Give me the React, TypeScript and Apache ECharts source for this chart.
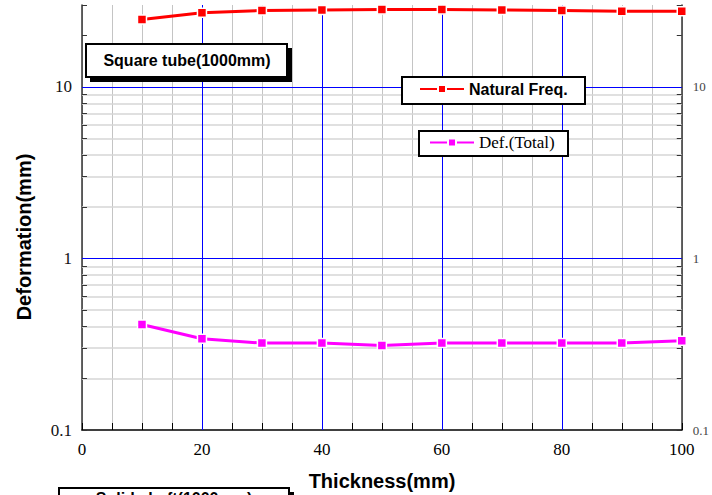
import React, { useEffect, useRef } from "react";
import * as echarts from "echarts";

const thickness = [10, 20, 30, 40, 50, 60, 70, 80, 90, 100];
const naturalFreq = [24.7, 27.0, 27.9, 28.1, 28.2, 28.2, 28.1, 27.9, 27.6, 27.6];
const defTotal = [0.412, 0.34, 0.321, 0.321, 0.311, 0.321, 0.321, 0.321, 0.321, 0.331];
const xTickLabels = [0, 20, 40, 60, 80, 100];
const yTickLabels = [0.1, 1, 10];
const minorGridValues = [0.2, 0.3, 0.4, 0.5, 0.6, 0.7, 0.8, 0.9, 2, 3, 4, 5, 6, 7, 8, 9];
const minorTickValues = [...minorGridValues, 20];
const blueYValues = [1, 10];
const blueXValues = [20, 40, 60, 80];

const serif = '"Liberation Serif", "DejaVu Serif", serif';
const sans = '"Liberation Sans", Arial, sans-serif';

function yFmt(v: number): string {
  const m = yTickLabels.find((t) => Math.abs(t - v) < t * 1e-6);
  return m === undefined ? "" : String(m);
}

function txt(x: number, y: number, text: string, font: string, extra: any = {}) {
  return {
    type: "text",
    x,
    y,
    z: 60,
    ...extra,
    style: {
      text,
      font,
      fill: "#000",
      textAlign: "center",
      textVerticalAlign: "middle",
      align: "center",
      verticalAlign: "middle",
    },
  };
}

function box(x: number, y: number, w: number, h: number, shadow: boolean) {
  const els: any[] = [];
  if (shadow) {
    els.push({ type: "rect", z: 50, shape: { x: x + 4, y: y + 4, width: w + 1, height: h + 1 }, style: { fill: "#000" } });
  }
  els.push({ type: "rect", z: 51, shape: { x, y, width: w, height: h }, style: { fill: "#fff", stroke: "#000", lineWidth: 2 } });
  return els;
}

const option: any = {
  animation: false,
  backgroundColor: "#fff",
  grid: { left: 82, right: 29, top: 5, bottom: 65 },
  legend: [
    {
      data: ["Natural Freq."],
      left: 419,
      top: 81,
      padding: 0,
      itemWidth: 44,
      itemHeight: 10,
      selectedMode: false,
      z: 70,
      textStyle: { fontFamily: sans, fontWeight: "bold", fontSize: 16, color: "#000" },
    },
    {
      data: ["Def.(Total)"],
      left: 429,
      top: 134,
      padding: 0,
      itemWidth: 44,
      itemHeight: 10,
      selectedMode: false,
      z: 70,
      textStyle: { fontFamily: serif, fontSize: 17, color: "#000" },
    },
  ],
  xAxis: [
    {
      type: "value",
      min: 0,
      max: 100,
      interval: 5,
      axisLine: { show: true, lineStyle: { color: "#000", width: 1.5 } },
      axisTick: { show: true, inside: true, length: 7, lineStyle: { color: "#000" } },
      axisLabel: {
        interval: 0,
        formatter: (v: number) => (xTickLabels.includes(Math.round(v)) && Math.abs(v - Math.round(v)) < 1e-6 ? String(Math.round(v)) : ""),
        fontFamily: serif,
        fontSize: 17,
        color: "#000",
        margin: 11,
      },
      splitLine: { show: true, lineStyle: { color: "#c4c4c4", width: 1 } },
    },
  ],
  yAxis: [
    {
      type: "log",
      logBase: 10,
      min: 0.1,
      max: 30,
      position: "left",
      axisLine: { show: true, lineStyle: { color: "#333", width: 1.5 } },
      axisTick: { show: true, inside: true, length: 5, lineStyle: { color: "#333" } },
      axisLabel: { formatter: yFmt, fontFamily: serif, fontSize: 17, color: "#111", margin: 10 },
      splitLine: { show: false },
    },
    {
      type: "log",
      logBase: 10,
      min: 0.1,
      max: 30,
      position: "right",
      axisLine: { show: true, lineStyle: { color: "#333", width: 1.5 } },
      axisTick: { show: true, inside: true, length: 5, lineStyle: { color: "#333" } },
      axisLabel: { formatter: yFmt, fontFamily: serif, fontSize: 13, color: "#444", margin: 11 },
      splitLine: { show: false },
    },
  ],
  series: [
    {
      type: "line",
      data: [],
      silent: true,
      z: 1,
      markLine: {
        silent: true,
        symbol: "none",
        animation: false,
        label: { show: false },
        lineStyle: { color: "#d6d6d6", width: 1.5, type: "solid" },
        data: minorGridValues.map((v) => ({ yAxis: v })),
      },
    },
    {
      type: "line",
      data: [],
      silent: true,
      z: 1,
      markLine: {
        silent: true,
        symbol: "none",
        animation: false,
        label: { show: false },
        lineStyle: { color: "#0000ff", width: 1, type: "solid" },
        data: [...blueYValues.map((v) => ({ yAxis: v })), ...blueXValues.map((v) => ({ xAxis: v }))],
      },
    },
    {
      type: "line",
      data: [],
      silent: true,
      z: 1,
      markLine: {
        silent: true,
        symbol: "none",
        animation: false,
        label: { show: false },
        lineStyle: { color: "#333", width: 1, type: "solid" },
        data: [
          ...minorTickValues.map((v) => [{ coord: [0, v] }, { coord: [0.83, v] }]),
          ...minorTickValues.map((v) => [{ coord: [99.17, v] }, { coord: [100, v] }]),
        ],
      },
    },
    {
      name: "Natural Freq.",
      type: "line",
      data: thickness.map((x, i) => [x, naturalFreq[i]]),
      symbol: "rect",
      symbolSize: 9,
      clip: false,
      z: 5,
      lineStyle: { color: "#ff0000", width: 3 },
      itemStyle: { color: "#ff0000", borderColor: "#fff", borderWidth: 1.5 },
    },
    {
      name: "Def.(Total)",
      type: "line",
      data: thickness.map((x, i) => [x, defTotal[i]]),
      symbol: "rect",
      symbolSize: 9,
      clip: false,
      z: 5,
      lineStyle: { color: "#ff00ff", width: 3 },
      itemStyle: { color: "#ff00ff", borderColor: "#fff", borderWidth: 1.5 },
    },
  ],
  graphic: [
    ...box(86, 44, 201, 33, true),
    txt(187, 60.5, "Square tube(1000mm)", `bold 16px ${sans}`),
    ...box(402, 77, 183, 27, false),
    ...box(419, 131, 149, 25, false),
    ...box(59, 488, 230, 33, true),
    txt(174, 498, "Solid shaft(1000mm)", `bold 16px ${sans}`),
    txt(24, 237, "Deformation(mm)", `bold 20px ${sans}`, { rotation: Math.PI / 2 }),
    txt(382, 481, "Thickness(mm)", `bold 20px ${sans}`),
  ],
};

export default function App() {
  const ref = useRef<HTMLDivElement>(null);
  useEffect(() => {
    const chart = echarts.init(ref.current!, null, { renderer: "svg" });
    chart.setOption(option);
    return () => chart.dispose();
  }, []);
  return <div ref={ref} style={{ position: "fixed", left: 0, top: 0, width: 712, height: 495 }} />;
}
